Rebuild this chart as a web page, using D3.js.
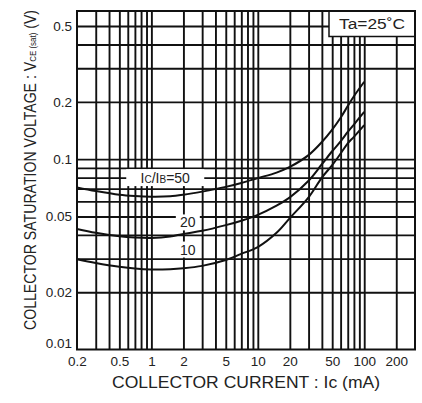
<!DOCTYPE html>
<html>
<head>
<meta charset="utf-8">
<script src="https://cdn.jsdelivr.net/npm/d3@7"></script>
<style>
  body { margin: 0; background: #fff; }
  svg { display: block; font-family: "Liberation Sans", Arial, sans-serif; }
  .grid line { stroke: #111; stroke-width: 1.9; }
  .grid .domain { display: none; }
  .lbl .domain, .lbl line { display: none; }
  .lbl text { font-size: 13.5px; fill: #222; }
</style>
</head>
<body>
<div id="chart"></div>
<script>
// collector current (mA) and saturation voltage (V)
var icValues = [0.2, 0.3, 0.5, 0.7, 1, 1.5, 2, 3, 5, 7, 10, 15, 20, 30, 40, 50, 60, 70, 80, 100];
var vce50 = [0.071, 0.068, 0.065, 0.064, 0.0635, 0.0638, 0.065, 0.0675, 0.0715, 0.075, 0.0795, 0.085, 0.091, 0.105, 0.123, 0.143, 0.165, 0.19, 0.214, 0.255];
var vce20 = [0.043, 0.041, 0.0393, 0.0387, 0.0385, 0.0392, 0.0405, 0.042, 0.045, 0.0475, 0.051, 0.057, 0.063, 0.077, 0.094, 0.11, 0.124, 0.139, 0.152, 0.177];
var vce10 = [0.0298, 0.0285, 0.0272, 0.0266, 0.0263, 0.0264, 0.0267, 0.0275, 0.0295, 0.0318, 0.0345, 0.041, 0.049, 0.063, 0.08, 0.093, 0.107, 0.121, 0.131, 0.151];

// tick labels
var xTickLabels = [0.2, 0.5, 1, 2, 5, 10, 20, 50, 100, 200];
var yTickLabels = [0.01, 0.02, 0.05, 0.1, 0.2, 0.5];
// grid
var xGrid = [0.3, 0.4, 0.5, 0.6, 0.7, 0.8, 0.9, 1, 2, 3, 4, 5, 6, 7, 8, 9, 10, 20, 30, 40, 50, 60, 70, 80, 90, 100, 200];
var yGrid = [0.02, 0.03, 0.04, 0.05, 0.06, 0.07, 0.08, 0.09, 0.1, 0.2, 0.3, 0.4, 0.5];

var W = 422, H = 403;
var margin = {top: 11, right: 7, bottom: 53.5, left: 77};
var width = W - margin.left - margin.right;
var height = H - margin.top - margin.bottom;

var svg = d3.select("#chart").append("svg")
  .attr("width", W)
  .attr("height", H);

var g = svg.append("g")
  .attr("transform", "translate(" + margin.left + "," + margin.top + ")");

var x = d3.scaleLog().domain([0.2, 300]).range([0, width]);
var y = d3.scaleLog().domain([0.01, 0.6]).range([height, 0]);

//grid lines
g.append("g")
  .attr("class", "grid")
  .attr("transform", "translate(0," + height + ")")
  .call(d3.axisBottom(x).tickValues(xGrid).tickSize(-height).tickFormat(""));

g.append("g")
  .attr("class", "grid")
  .call(d3.axisLeft(y).tickValues(yGrid).tickSize(-width).tickFormat(""));

//tick labels
g.append("g")
  .attr("class", "lbl")
  .attr("transform", "translate(0," + height + ")")
  .call(d3.axisBottom(x).tickValues(xTickLabels).tickSize(0).tickPadding(7)
    .tickFormat(function(d) { return String(d); }));

g.append("g")
  .attr("class", "lbl")
  .call(d3.axisLeft(y).tickValues(yTickLabels).tickSize(0).tickPadding(5)
    .tickFormat(function(d) { return String(d); }))
  .selectAll(".tick text")
  .attr("dy", function(d) { return d === 0.01 ? "-0.15em" : "0.32em"; });

//curves
var series = [
  {ratio: 50, values: vce50},
  {ratio: 20, values: vce20},
  {ratio: 10, values: vce10}
];

var line = d3.line()
  .x(function(d) { return x(d[0]); })
  .y(function(d) { return y(d[1]); })
  .curve(d3.curveCatmullRom.alpha(0.5));

//labels on the curves (white patches under them hide the grid)
var labels = [
  {ic: 1.35, v: 0.08, w: 78, h: 17, text: "50"},
  {ic: 2.2, v: 0.0465, w: 24, h: 16, text: "20"},
  {ic: 2.2, v: 0.0335, w: 24, h: 16, text: "10"}
];

var lab = g.selectAll(".curve-label")
  .data(labels)
  .enter().append("g")
  .attr("class", "curve-label")
  .attr("transform", function(d) { return "translate(" + x(d.ic) + "," + y(d.v) + ")"; });

lab.append("rect")
  .attr("x", function(d) { return -d.w / 2; })
  .attr("y", function(d) { return -d.h / 2; })
  .attr("width", function(d) { return d.w; })
  .attr("height", function(d) { return d.h; })
  .attr("fill", "#fff");

lab.append("text")
  .attr("text-anchor", "middle")
  .attr("dy", "0.36em")
  .style("font-size", "14px")
  .attr("fill", "#222")
  .each(function(d) {
    var t = d3.select(this);
    if (d.text === "50") {
      t.append("tspan").text("I");
      t.append("tspan").style("font-size", "10px").text("C");
      t.append("tspan").text("/I");
      t.append("tspan").style("font-size", "10px").text("B");
      t.append("tspan").text("=50");
    } else {
      t.text(d.text);
    }
  });

g.selectAll(".curve")
  .data(series)
  .enter().append("path")
  .attr("class", "curve")
  .attr("fill", "none")
  .attr("stroke", "#111")
  .attr("stroke-width", 2)
  .attr("d", function(d) {
    return line(icValues.map(function(ic, i) { return [ic, d.values[i]]; }));
  });

//Ta box
var taBox = g.append("g")
  .attr("transform", "translate(" + (width - 86) + ",0)");
taBox.append("rect")
  .attr("width", 86)
  .attr("height", 25.5)
  .attr("fill", "#fff")
  .attr("stroke", "#111")
  .attr("stroke-width", 1.5);
taBox.append("text")
  .attr("x", 43)
  .attr("y", 13)
  .attr("dy", "0.36em")
  .attr("text-anchor", "middle")
  .style("font-size", "14px")
  .attr("fill", "#222")
  .attr("textLength", 66)
  .attr("lengthAdjust", "spacingAndGlyphs")
  .text("Ta=25\u02DAC");

//frame
g.append("rect")
  .attr("width", width)
  .attr("height", height)
  .attr("fill", "none")
  .attr("stroke", "#111")
  .attr("stroke-width", 2);

//axis titles
svg.append("text")
  .attr("x", 246)
  .attr("y", 382)
  .attr("dy", "0.36em")
  .attr("text-anchor", "middle")
  .style("font-size", "16px")
  .attr("fill", "#222")
  .attr("textLength", 268)
  .attr("lengthAdjust", "spacingAndGlyphs")
  .text("COLLECTOR  CURRENT : Ic (mA)");

var yt = svg.append("text")
  .attr("transform", "translate(30,170) rotate(-90)")
  .attr("text-anchor", "middle")
  .attr("dy", "0.36em")
  .style("font-size", "16px")
  .attr("fill", "#222")
  .attr("textLength", 320)
  .attr("lengthAdjust", "spacingAndGlyphs");
yt.append("tspan").text("COLLECTOR  SATURATION  VOLTAGE : V");
yt.append("tspan").style("font-size", "9px").text("CE (sat)");
yt.append("tspan").text(" (V)");
</script>
</body>
</html>
